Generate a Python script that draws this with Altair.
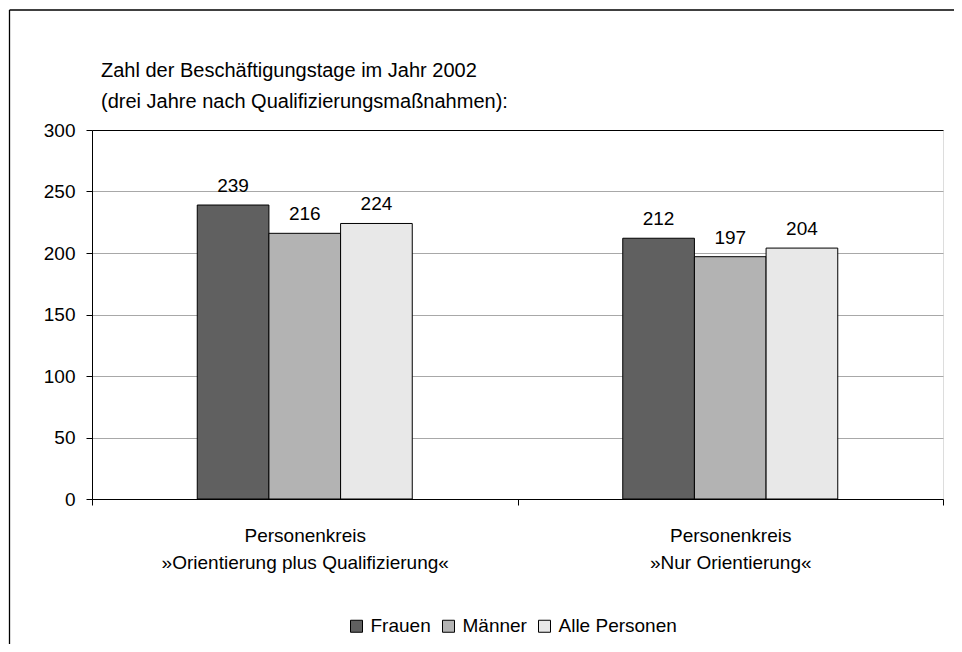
import altair as alt
import pandas as pd

# ---- data ----
categories = [
    "Personenkreis\n»Orientierung plus Qualifizierung«",
    "Personenkreis\n»Nur Orientierung«",
]
series = ["Frauen", "Männer", "Alle Personen"]
frauen = [239, 212]
maenner = [216, 197]
alle_personen = [224, 204]
y_ticks = [0, 50, 100, 150, 200, 250, 300]
colors = ["#606060", "#b3b3b3", "#e8e8e8"]
title_lines = [
    "Zahl der Beschäftigungstage im Jahr 2002",
    "(drei Jahre nach Qualifizierungsmaßnahmen):",
]

rows = []
for s, vals in zip(series, [frauen, maenner, alle_personen]):
    for c, v in zip(categories, vals):
        rows.append({"kreis": c, "gruppe": s, "tage": v})
df = pd.DataFrame(rows)

FONT = "Liberation Sans"
W, H = 851, 369
FS = 19
STEP = W / 2
GROUP = 215  # width of the three-bar group inside each category

x = alt.X(
    "kreis:N",
    sort=categories,
    title=None,
    scale=alt.Scale(paddingInner=0, paddingOuter=0),
    axis=alt.Axis(
        tickBand="extent",
        ticks=True,
        tickSize=6,
        tickColor="black",
        domainColor="black",
        labelExpr="split(datum.label, '\\n')",
        labelFontSize=FS,
        labelFont=FONT,
        labelColor="black",
        labelBaseline="alphabetic",
        labelLineHeight=26.6,
        labelPadding=36.7,
        labelLimit=0,
        labelAngle=0,
        grid=False,
    ),
)
xo = alt.XOffset(
    "gruppe:N",
    sort=series,
    scale=alt.Scale(
        domain=series,
        range=[(STEP - GROUP) / 2, (STEP + GROUP) / 2],
        paddingInner=0,
        paddingOuter=0,
    ),
)
y = alt.Y(
    "tage:Q",
    title=None,
    scale=alt.Scale(domain=[0, 300], nice=False),
    axis=alt.Axis(
        values=y_ticks,
        tickSize=6,
        tickColor="black",
        domainColor="black",
        labelFontSize=FS,
        labelFont=FONT,
        labelColor="black",
        labelPadding=11,
        grid=True,
        gridColor={"condition": {"test": "datum.value === 300", "value": "black"}, "value": "#a8a8a8"},
    ),
)
color = alt.Color(
    "gruppe:N",
    sort=series,
    scale=alt.Scale(domain=series, range=colors),
    legend=alt.Legend(
        title=None,
        orient="none",
        legendX=255,
        legendY=486.5,
        direction="horizontal",
        symbolType="square",
        symbolSize=144,
        symbolStrokeColor="black",
        symbolStrokeWidth=1,
        symbolOpacity=1,
        labelFontSize=FS,
        labelFont=FONT,
        labelColor="black",
        labelOffset=4.5,
        columnPadding=8,
        padding=0,
    ),
)

bars = alt.Chart().mark_bar(stroke="black", strokeWidth=1, opacity=1).encode(
    x=x, xOffset=xo, y=y, color=color
)
labels = alt.Chart().mark_text(
    dy=-13, baseline="alphabetic", fontSize=FS, font=FONT, color="black"
).encode(x=x, xOffset=xo, y=y, text="tage:Q")

# title lines
one = alt.Data(values=[{"k": 0}])
title1 = alt.Chart(one).mark_text(
    align="left", baseline="alphabetic", fontSize=20, font=FONT, color="black"
).encode(x=alt.value(9), y=alt.value(-53.3), text=alt.value(title_lines[0]))
title2 = alt.Chart(one).mark_text(
    align="left", baseline="alphabetic", fontSize=20, font=FONT, color="black"
).encode(x=alt.value(9), y=alt.value(-21.7), text=alt.value(title_lines[1]))

# outer frame (left and top edges)
frame_left = alt.Chart(one).mark_rule(color="black", strokeWidth=1.3).encode(
    x=alt.value(-82.5), y=alt.value(-120), y2=alt.value(H + 200)
)
frame_top = alt.Chart(one).mark_rule(color="black", strokeWidth=1.3).encode(
    x=alt.value(-82.5), x2=alt.value(W + 200), y=alt.value(-120)
)

chart = (
    alt.layer(bars, labels, title1, title2, frame_left, frame_top, data=df)
    .properties(
        width=W,
        height=H,
        padding={"left": 84, "top": 122, "right": 11, "bottom": 145},
        autosize=alt.AutoSizeParams(type="none"),
    )
    .configure_view(stroke="black", strokeWidth=1)
    .configure(background="white")
)

chart.save("out.html", embed_options={"renderer": "svg", "actions": False})
